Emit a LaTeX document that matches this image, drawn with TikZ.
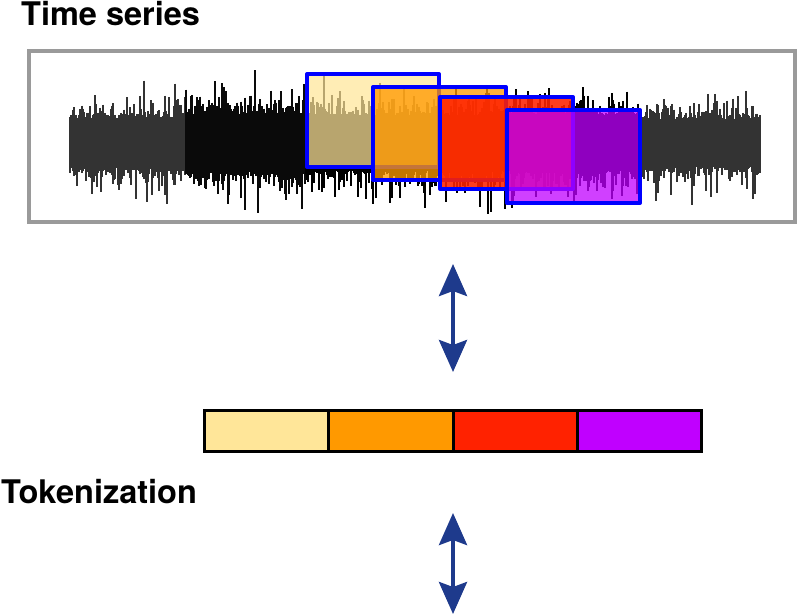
\documentclass[tikz,border=0pt]{standalone}
\usepackage{fontspec}
\setmainfont{TeX Gyre Heros}
\usetikzlibrary{arrows.meta}
\definecolor{wgray}{HTML}{333333}
\definecolor{wblack}{HTML}{0A0A0A}
\definecolor{framegray}{HTML}{9A9A9A}
\definecolor{winblue}{HTML}{0000FF}
\definecolor{tokyellow}{HTML}{FFE699}
\definecolor{tokorange}{HTML}{FF9900}
\definecolor{tokred}{HTML}{FF2200}
\definecolor{tokpurple}{HTML}{C000FF}
\definecolor{arrowblue}{HTML}{1E3A8C}
\tikzset{
  title/.style={font=\fontsize{32.5}{38}\selectfont\bfseries, inner sep=0pt, anchor=base west},
  window/.style={draw=winblue, line width=4pt, line join=round},
  token/.style={draw=black, line width=3pt, minimum width=124.3pt, minimum height=41pt, inner sep=0pt, outer sep=0pt},
  biarrow/.style={arrowblue, line width=4pt, {Stealth[length=32pt,width=28pt,inset=5pt]}-{Stealth[length=32pt,width=28pt,inset=5pt]}},
}
\begin{document}
\begin{tikzpicture}[x=1pt,y=-1pt]
\useasboundingbox (0,0) rectangle (799,614);
% titles
\node[title] (ts) at (21,25) {Time series};
\node[title] (tok) at (1,503) {Tokenization};
% frame
\draw[framegray, line width=4pt] (29,51) rectangle (795,222);
% waveform
\pgfmathsetseed{11}
\foreach \s/\e/\c/\k in {70/185/wgray/1, 186/305/wblack/1.15, 306/640/black/1.1, 641/760/wgray/0.95} {
  \draw[\c, line width=1.1pt] \foreach \x in {\s,...,\e} {
    (\x, {143-\k*(25+22*rnd*rnd+22*rnd*(rnd>0.86))}) -- (\x, {143+\k*(25+22*rnd*rnd+28*rnd*(rnd>0.86))})
  };
}
% windows
\draw[window, fill=tokyellow, fill opacity=0.72] (307,74) rectangle (439,167);
\draw[window, fill=tokorange, fill opacity=0.77] (373,87) rectangle (506,180);
\draw[window, fill=tokred, fill opacity=0.88] (440,97) rectangle (573,189);
\draw[window, fill=tokpurple, fill opacity=0.75] (507,110) rectangle (640,203);
% tokens
\node[token, fill=tokyellow, anchor=west] (t1) at (204.5,430.5) {};
\node[token, fill=tokorange, anchor=west] (t2) at (t1.east) {};
\node[token, fill=tokred, anchor=west] (t3) at (t2.east) {};
\node[token, fill=tokpurple, anchor=west] (t4) at (t3.east) {};
% arrows
\coordinate (a1top) at (453,264);
\coordinate (a1bot) at (453,372);
\coordinate (a2top) at (453,513);
\coordinate (a2bot) at (453,614);
\draw[biarrow] (a1top) -- (a1bot);
\draw[biarrow] (a2top) -- (a2bot);
\end{tikzpicture}
\end{document}
